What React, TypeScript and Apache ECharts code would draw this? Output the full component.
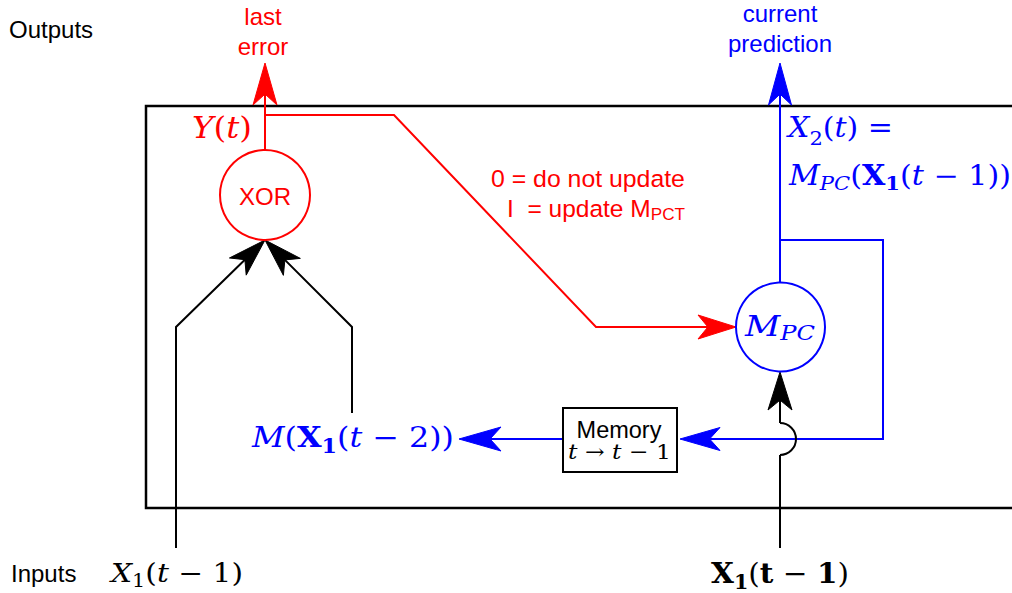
import React, { useEffect, useRef } from 'react';
import * as echarts from 'echarts';

// ---- content ----
type Run = { t: string; it?: boolean; bf?: boolean; sub?: boolean };

const sideLabels = ['Outputs', 'Inputs'];
const lastErrorLines = ['last', 'error'];
const predictionLines = ['current', 'prediction'];
const nodeLabels = ['XOR', 'Memory'];
const gateNoteZero = '0 = do not update';
const gateNoteOne: Run[] = [{ t: 'I  = update M' }, { t: 'PCT', sub: true }];

const mathY: Run[] = [{ t: 'Y', it: true }, { t: '(' }, { t: 't', it: true }, { t: ')' }];
const mathX2: Run[] = [{ t: 'X', it: true }, { t: '2', sub: true }, { t: '(' }, { t: 't', it: true }, { t: ')' }, { t: ' =' }];
const mathMpcOut: Run[] = [
  { t: 'M', it: true }, { t: 'PC', it: true, sub: true }, { t: '(' }, { t: 'X', bf: true }, { t: '1', bf: true, sub: true },
  { t: '(' }, { t: 't', it: true }, { t: ' − ' }, { t: '1' }, { t: ')' }, { t: ')' },
];
const mathMem: Run[] = [
  { t: 'M', it: true }, { t: '(' }, { t: 'X', bf: true }, { t: '1', bf: true, sub: true },
  { t: '(' }, { t: 't', it: true }, { t: ' − ' }, { t: '2' }, { t: ')' }, { t: ')' },
];
const mathIn1: Run[] = [{ t: 'X', it: true }, { t: '1', sub: true }, { t: '(' }, { t: 't', it: true }, { t: ' − ' }, { t: '1' }, { t: ')' }];
const mathIn2: Run[] = [{ t: 'X', bf: true }, { t: '1', bf: true, sub: true }, { t: '(' }, { t: 't', bf: true }, { t: ' − ' }, { t: '1', bf: true }, { t: ')' }];
const mathMpc: Run[] = [{ t: 'M', it: true }, { t: 'PC', it: true, sub: true }];
const mathShift: Run[] = [{ t: 't', it: true }, { t: ' → ' }, { t: 't', it: true }, { t: ' − ' }, { t: '1' }];

// ---- styling ----
const RED = '#ff0000';
const BLUE = '#0000ff';
const BLACK = '#000000';
const SANS = 'Liberation Sans';
const SERIF = 'DejaVu Serif';
const CENTRAL: Record<string, number> = { 'Liberation Sans': 0.346, 'DejaVu Serif': 0.346 };

let measureCtx: CanvasRenderingContext2D | null = null;
function measure(t: string, fst: string, fw: string, fs: number, fam: string) {
  if (!measureCtx) measureCtx = document.createElement('canvas').getContext('2d');
  measureCtx!.font = `${fst} ${fw} ${fs}px "${fam}"`;
  return measureCtx!.measureText(t).width;
}

function textEl(t: string, x: number, y: number, fs: number, fam: string, color: string, align = 'left', fst = 'normal', fw = 'normal') {
  return {
    type: 'text', x, y,
    style: {
      text: t, fill: color, fontSize: fs, fontFamily: fam, fontStyle: fst, fontWeight: fw,
      align, verticalAlign: 'middle', textAlign: align, textVerticalAlign: 'middle',
    },
  };
}

function label(t: string, x: number, baseline: number, fs: number, color: string, align = 'left') {
  return textEl(t, x, baseline - CENTRAL[SANS] * fs, fs, SANS, color, align);
}

function fitRuns(runs: Run[], left: number, right: number, baseline: number, size: number, color: string, fam: string, subShift = 0.2) {
  let x = 0;
  const children: any[] = [];
  runs.forEach((r) => {
    const fs = r.sub ? size * 0.7 : size;
    const base = r.sub ? size * subShift : 0;
    const fst = r.it ? 'italic' : 'normal';
    const fw = r.bf ? 'bold' : 'normal';
    children.push(textEl(r.t, x, base - CENTRAL[fam] * fs, fs, fam, color, 'left', fst, fw));
    x += measure(r.t, fst, fw, fs, fam);
  });
  return { type: 'group', x: left, y: baseline, scaleX: (right - left) / x, children };
}

function line(points: number[][], color: string, w = 2) {
  return { type: 'polyline', shape: { points }, style: { stroke: color, lineWidth: w, fill: 'none' } };
}

function head(tip: number[], from: number[], color: string, L = 40, W = 24) {
  const dx = tip[0] - from[0];
  const dy = tip[1] - from[1];
  const len = Math.hypot(dx, dy);
  const ux = dx / len, uy = dy / len;
  const px = -uy, py = ux;
  const bx = tip[0] - ux * L, by = tip[1] - uy * L;
  const nx = tip[0] - ux * L * 0.74, ny = tip[1] - uy * L * 0.74;
  return {
    type: 'polygon',
    shape: { points: [tip, [bx + (px * W) / 2, by + (py * W) / 2], [nx, ny], [bx - (px * W) / 2, by - (py * W) / 2]] },
    style: { fill: color, stroke: color, lineWidth: 1, lineJoin: 'miter' },
  };
}

function shaftEnd(tip: number[], from: number[], L = 40) {
  const dx = tip[0] - from[0], dy = tip[1] - from[1];
  const len = Math.hypot(dx, dy);
  return [tip[0] - (dx / len) * L * 0.6, tip[1] - (dy / len) * L * 0.6];
}

function buildElements() {
  const els: any[] = [];
  // frame
  els.push({ type: 'rect', shape: { x: 146, y: 106, width: 930, height: 402 }, style: { fill: 'none', stroke: BLACK, lineWidth: 2.5 } });

  // red output + update line
  const redTip = [265, 63];
  els.push(line([[265, 150], shaftEnd(redTip, [265, 150], 42)], RED));
  els.push(head(redTip, [265, 150], RED, 42, 24));
  const redTip2 = [736, 327];
  els.push(line([[265, 115], [394, 115], [596, 327], shaftEnd(redTip2, [596, 327], 38)], RED));
  els.push(head(redTip2, [596, 327], RED, 38, 24));

  // blue output + feedback
  const blueTip = [780, 63];
  els.push(line([[780, 283], shaftEnd(blueTip, [780, 283], 42)], BLUE));
  els.push(head(blueTip, [780, 283], BLUE, 42, 23));
  const memTip = [680, 439];
  els.push(line([[780, 240], [883, 240], [883, 439], shaftEnd(memTip, [883, 439], 40)], BLUE));
  els.push(head(memTip, [883, 439], BLUE, 40, 23));
  const outTip = [459, 439];
  els.push(line([[563, 439], shaftEnd(outTip, [563, 439], 42)], BLUE));
  els.push(head(outTip, [563, 439], BLUE, 42, 24));

  // black inputs
  const xorTip = [265, 240];
  els.push(line([[176, 548], [176, 327], shaftEnd(xorTip, [176, 327], 38)], BLACK));
  els.push(head(xorTip, [176, 327], BLACK, 38, 24));
  els.push(line([[352, 413], [352, 327], shaftEnd(xorTip, [352, 327], 38)], BLACK));
  els.push(head(xorTip, [352, 327], BLACK, 38, 24));
  const mpcTip = [780, 372];
  els.push(line([[780, 548], [780, 455]], BLACK));
  els.push({ type: 'arc', shape: { cx: 780, cy: 439, r: 16, startAngle: -Math.PI / 2, endAngle: Math.PI / 2, clockwise: true }, style: { stroke: BLACK, lineWidth: 2, fill: 'none' } });
  els.push(line([[780, 423], shaftEnd(mpcTip, [780, 423], 38)], BLACK));
  els.push(head(mpcTip, [780, 423], BLACK, 38, 24));

  // nodes
  els.push({ type: 'circle', shape: { cx: 265, cy: 195, r: 45 }, style: { fill: '#ffffff', stroke: RED, lineWidth: 2 } });
  els.push({ type: 'circle', shape: { cx: 780.5, cy: 327, r: 44.5 }, style: { fill: '#ffffff', stroke: BLUE, lineWidth: 2 } });
  els.push({ type: 'rect', shape: { x: 563, y: 408, width: 114, height: 64 }, style: { fill: '#ffffff', stroke: BLACK, lineWidth: 2 } });

  // sans texts
  els.push(label(sideLabels[0], 9, 38, 24, BLACK));
  els.push(label(sideLabels[1], 11, 582, 24, BLACK));
  els.push(label(lastErrorLines[0], 263, 25, 24, RED, 'center'));
  els.push(label(lastErrorLines[1], 263, 55, 24, RED, 'center'));
  els.push(label(predictionLines[0], 780, 22, 24, BLUE, 'center'));
  els.push(label(predictionLines[1], 780, 52, 24, BLUE, 'center'));
  els.push(label(nodeLabels[0], 265, 205, 24, RED, 'center'));
  els.push(label(nodeLabels[1], 619, 438, 23.5, BLACK, 'center'));
  els.push(fitRuns([{ t: gateNoteZero }], 491, 685, 187, 23.5, RED, SANS));
  els.push(fitRuns(gateNoteOne, 507, 685, 217, 23.5, RED, SANS, 0.12));

  // math
  els.push(fitRuns(mathY, 192, 252, 138, 29, RED, SERIF));
  els.push(fitRuns(mathX2, 788, 893, 137, 27, BLUE, SERIF, 0.28));
  els.push(fitRuns(mathMpcOut, 789, 1011, 185, 27, BLUE, SERIF));
  els.push(fitRuns(mathMem, 252, 454, 447, 28, BLUE, SERIF));
  els.push(fitRuns(mathIn1, 111, 243, 582, 26, BLACK, SERIF));
  els.push(fitRuns(mathIn2, 711, 849, 583, 28, BLACK, SERIF));
  els.push(fitRuns(mathMpc, 745, 815, 336, 28, BLUE, SERIF, 0.15));
  els.push(fitRuns(mathShift, 568, 671, 459, 21, BLACK, SERIF));
  return els;
}

export default function App() {
  const ref = useRef<HTMLDivElement>(null);
  useEffect(() => {
    if (!ref.current) return;
    const chart = echarts.init(ref.current, null, { renderer: 'svg' });
    chart.setOption({
      animation: false,
      backgroundColor: '#ffffff',
      graphic: { elements: buildElements() },
    });
    return () => chart.dispose();
  }, []);
  return <div ref={ref} style={{ position: 'fixed', left: 0, top: 0, width: 1012, height: 593 }} />;
}
